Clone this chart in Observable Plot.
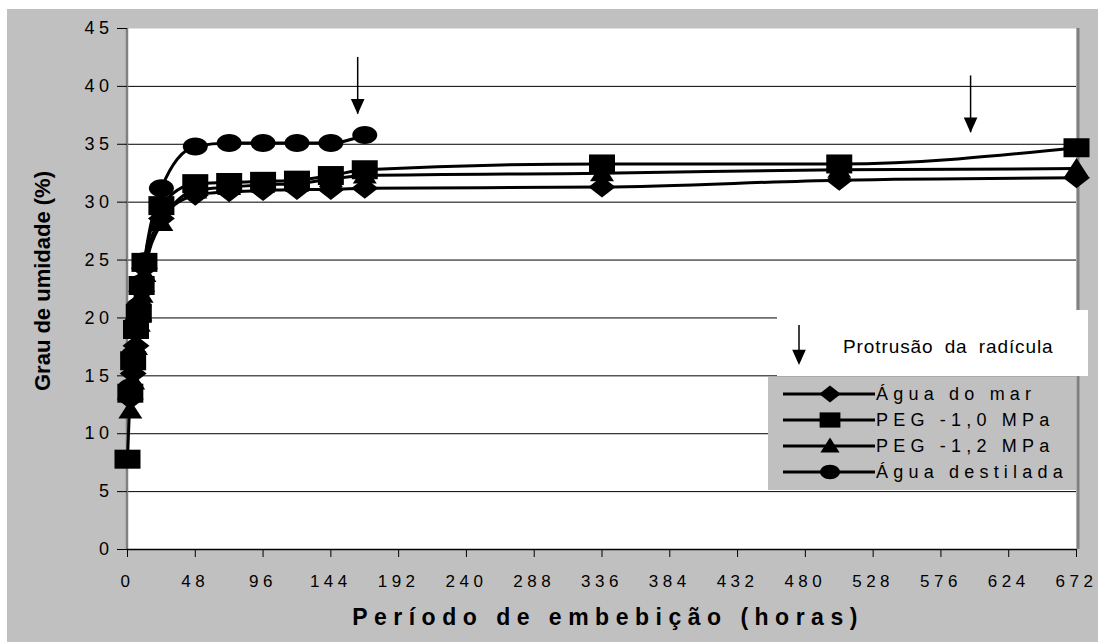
<!DOCTYPE html>
<html>
<head>
<meta charset="utf-8">
<script src="https://cdn.jsdelivr.net/npm/d3@7"></script>
<script src="https://cdn.jsdelivr.net/npm/@observablehq/plot@0.6"></script>
<style>
  html, body { margin: 0; padding: 0; background: #ffffff; overflow: hidden; }
  #wrap { position: relative; width: 1098px; height: 642px; font-family: "Liberation Sans", Arial, sans-serif; color: #000; }
  #bg { position: absolute; left: 7px; top: 9px; right: 0; bottom: 0; background: #c0c0c0; }
  #chart { position: absolute; left: 0; top: 0; }
  .ytitle { position: absolute; left: 43px; top: 281px; transform: translate(-50%, -50%) rotate(-90deg); white-space: nowrap;
            font-weight: bold; font-size: 22px; }
  .xtitle { position: absolute; left: 608px; top: 617px; transform: translate(-50%, -50%); white-space: nowrap;
            font-weight: bold; font-size: 23px; letter-spacing: 6.5px; }
  #note { position: absolute; left: 777px; top: 310px; width: 311px; height: 66px; background: #ffffff; }
  #note svg { position: absolute; left: 0; top: 0; }
  #note span { position: absolute; left: 66px; top: 37px; transform: translateY(-50%); font-size: 19px; letter-spacing: 0.9px; word-spacing: 5px; white-space: nowrap; }
  #legend { position: absolute; left: 768px; top: 377px; width: 308px; height: 113px; background: #c0c0c0; }
  #legend .row { position: absolute; left: 0; height: 26px; width: 308px; }
  #legend svg { position: absolute; left: 0; top: 0; }
  #legend span { position: absolute; left: 108px; top: 50%; transform: translateY(-50%); font-size: 18px; letter-spacing: 5.2px; white-space: nowrap; }
</style>
</head>
<body>
<div id="wrap">
  <div id="bg"></div>
  <div id="chart"></div>
  <div class="ytitle">Grau de umidade (%)</div>
  <div class="xtitle">Período de embebição (horas)</div>
  <div id="note"></div>
  <div id="legend"></div>
</div>
<script>
// Sampling times (hours of imbibition)
const hours = [0, 2, 4, 6, 8, 10, 12, 24, 48, 72, 96, 120, 144, 168, 336, 504, 672];

// Moisture content (%) per treatment; null = not measured
const aguaMar   = [null, 13.0, 15.2, 17.6, 19.8, 22.3, 24.3, 28.6, 30.6, 30.9, 31.0, 31.1, 31.1, 31.2, 31.3, 31.9, 32.1];
const peg10     = [7.8, 13.5, 16.3, 19.0, 20.4, 22.8, 24.8, 29.7, 31.6, 31.7, 31.8, 31.9, 32.3, 32.8, 33.3, 33.3, 34.7];
const peg12     = [null, 12.0, 14.5, 17.5, 19.5, 22.0, 23.8, 28.2, 31.0, 31.3, 31.5, 31.6, 32.0, 32.3, 32.5, 32.8, 32.9];
const aguaDest  = [null, 14.0, 16.8, 19.5, 21.0, 23.0, 24.9, 31.2, 34.8, 35.1, 35.1, 35.1, 35.1, 35.8, null, null, null];

const seriesNames = ["Água do mar", "PEG -1,0 MPa", "PEG -1,2 MPa", "Água destilada"];

// Radicle protrusion markers (hour, arrow top %, arrow tip %)
const protrusion = [
  {hour: 163, top: 42.5, tip: 37.6},
  {hour: 597, top: 40.9, tip: 36.0}
];

const xTicks = [0, 48, 96, 144, 192, 240, 288, 336, 384, 432, 480, 528, 576, 624, 672];
const yTicks = [0, 5, 10, 15, 20, 25, 30, 35, 40, 45];
const gridLines = [5, 10, 15, 20, 25, 30, 35, 40];

// Marker shapes, slightly wider than tall
const shapes = {
  diamond: {draw(c, s) { const r = Math.sqrt(s / Math.PI), w = r * 1.35, h = r * 1.05;
    c.moveTo(0, -h); c.lineTo(w, 0); c.lineTo(0, h); c.lineTo(-w, 0); c.closePath(); }},
  square: {draw(c, s) { const r = Math.sqrt(s / Math.PI), w = r * 1.3, h = r * 0.95;
    c.moveTo(-w, -h); c.lineTo(w, -h); c.lineTo(w, h); c.lineTo(-w, h); c.closePath(); }},
  triangle: {draw(c, s) { const r = Math.sqrt(s / Math.PI), w = r * 1.2;
    c.moveTo(0, -r * 1.05); c.lineTo(w, r * 0.8); c.lineTo(-w, r * 0.8); c.closePath(); }},
  ellipse: {draw(c, s) { const r = Math.sqrt(s / Math.PI), a = r * 1.25, b = r * 0.9, k = 0.5523;
    c.moveTo(a, 0);
    c.bezierCurveTo(a, b * k, a * k, b, 0, b);
    c.bezierCurveTo(-a * k, b, -a, b * k, -a, 0);
    c.bezierCurveTo(-a, -b * k, -a * k, -b, 0, -b);
    c.bezierCurveTo(a * k, -b, a, -b * k, a, 0);
    c.closePath(); }},
  arrowHead: {draw(c, s) { const r = Math.sqrt(s / Math.PI);
    c.moveTo(-r * 0.8, -r * 1.8); c.lineTo(r * 0.8, -r * 1.8); c.lineTo(0, 0); c.closePath(); }}
};

const seriesDefs = [
  {name: seriesNames[2], values: peg12, shape: shapes.triangle},
  {name: seriesNames[0], values: aguaMar, shape: shapes.diamond},
  {name: seriesNames[1], values: peg10, shape: shapes.square},
  {name: seriesNames[3], values: aguaDest, shape: shapes.ellipse}
];

const rows = s => hours.map((h, i) => ({hour: h, value: s.values[i]})).filter(d => d.value != null);

const marks = [
  Plot.frame({fill: "#ffffff", stroke: null}),
  Plot.ruleY(gridLines, {stroke: "#000", strokeWidth: 1}),
  Plot.ruleX([672], {stroke: "#808080", strokeWidth: 3, dx: 1.5}),
  Plot.ruleX([0], {stroke: "#808080", strokeWidth: 2.5, dx: -0.5}),
  Plot.ruleY([0], {stroke: "#000", strokeWidth: 1.5}),
  Plot.axisY({ticks: yTicks, tickSize: 10, tickPadding: 4, fontSize: 18, label: null, stroke: "#000"}),
  Plot.axisX({ticks: xTicks, tickSize: 8, tickPadding: 17, fontSize: 17, label: null, stroke: "#000"})
];

for (const s of seriesDefs) {
  const d = rows(s);
  marks.push(Plot.line(d, {x: "hour", y: "value", stroke: "#000", strokeWidth: 3, curve: "monotone-x"}));
  marks.push(Plot.dot(d, {x: "hour", y: "value", symbol: () => s.shape, r: 10, fill: "#000", stroke: null}));
}

marks.push(Plot.ruleX(protrusion, {x: "hour", y1: "top", y2: "tip", stroke: "#000", strokeWidth: 1.5}));
marks.push(Plot.dot(protrusion, {x: "hour", y: "tip", symbol: () => shapes.arrowHead, r: 8.5, fill: "#000", stroke: null}));

const plot = Plot.plot({
  width: 1098,
  height: 642,
  marginLeft: 127,
  marginRight: 22,
  marginTop: 28,
  marginBottom: 93,
  x: {domain: [0, 672]},
  y: {domain: [0, 45]},
  style: {background: "transparent", fontFamily: "'Liberation Sans', Arial, sans-serif", fontSize: "17px", letterSpacing: "4.5px", color: "#000"},
  marks
});
document.getElementById("chart").appendChild(plot);

// Note box with a downward arrow explaining the arrows on the chart
const note = document.getElementById("note");
const ns = "http://www.w3.org/2000/svg";
{
  const svg = document.createElementNS(ns, "svg");
  svg.setAttribute("width", 60); svg.setAttribute("height", 66);
  const p = d3.path();
  shapes.arrowHead.draw(p, Math.PI * 8.5 * 8.5);
  svg.innerHTML = `<line x1="22" y1="15" x2="22" y2="45" stroke="#000" stroke-width="1.5"/>` +
    `<path transform="translate(22,55)" d="${p}" fill="#000"/>`;
  note.appendChild(svg);
  const t = document.createElement("span");
  t.textContent = "Protrusão da radícula";
  note.appendChild(t);
}

// Legend rows
const legend = document.getElementById("legend");
const legendOrder = [
  {name: seriesNames[0], shape: shapes.diamond},
  {name: seriesNames[1], shape: shapes.square},
  {name: seriesNames[2], shape: shapes.triangle},
  {name: seriesNames[3], shape: shapes.ellipse}
];
legendOrder.forEach((item, i) => {
  const row = document.createElement("div");
  row.className = "row";
  row.style.top = (4 + i * 26) + "px";
  const svg = document.createElementNS(ns, "svg");
  svg.setAttribute("width", 110); svg.setAttribute("height", 26);
  const p = d3.path();
  item.shape.draw(p, Math.PI * 8 * 8);
  svg.innerHTML = `<line x1="15" y1="13" x2="107" y2="13" stroke="#000" stroke-width="3"/>` +
    `<path transform="translate(62,13)" d="${p}" fill="#000"/>`;
  row.appendChild(svg);
  const t = document.createElement("span");
  t.textContent = item.name;
  row.appendChild(t);
  legend.appendChild(row);
});
</script>
</body>
</html>
